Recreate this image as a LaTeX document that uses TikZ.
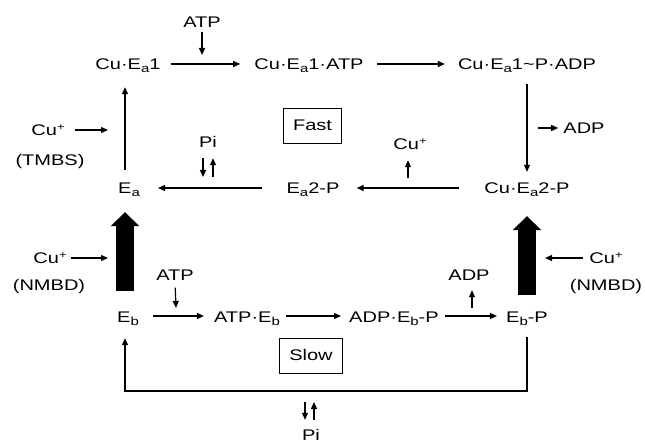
\documentclass[tikz,border=0pt]{standalone}
\usepackage{fontspec}
\setmainfont{Liberation Sans}[FakeStretch=1.3]
\usetikzlibrary{arrows.meta}
\newcommand\lo[1]{\raisebox{-3.5pt}{\fontsize{11.5pt}{12pt}\selectfont #1}}
\newcommand\hi[1]{\raisebox{4.5pt}{\fontsize{10pt}{11pt}\selectfont #1}}
\begin{document}
\begin{tikzpicture}[x=1pt,y=-1pt,
  font=\fontsize{15.4pt}{18pt}\selectfont,
  lbl/.style={inner sep=0pt, text height=11pt, text depth=0pt},
  arr/.style={line width=1.2pt, -{Triangle[length=7pt,width=6pt]}},
  bigarr/.style={line width=18pt, -{Triangle[length=14pt,width=28pt]}},
  boxed/.style={draw, line width=0.8pt, inner xsep=9.7pt, inner ysep=12pt, text height=11pt, text depth=0pt}]
\useasboundingbox (0,0) rectangle (645,443);
% top row
\node[lbl] (cuea1) at (128,64) {Cu·E\lo{a}1};
\node[lbl] (atpA) at (202,22) {ATP};
\node[lbl] (cuea1atp) at (309,64) {Cu·E\lo{a}1·ATP};
\node[lbl] (cuea1p) at (527,64) {Cu·E\lo{a}1\textasciitilde P·ADP};
\node[lbl] (adpA) at (584,128) {ADP};
\node[lbl] (cuea2p) at (527,188) {Cu·E\lo{a}2-P};
\node[lbl] (cupA) at (410,144) {Cu\hi{+}};
\node[lbl] (ea2p) at (313,188) {E\lo{a}2-P};
\node[lbl] (piA) at (208,142) {Pi};
\node[lbl] (ea) at (129,188) {E\lo{a}};
\node[boxed] (fast) at (312.5,125.5) {Fast};
\node[lbl] (cuT) at (48,130) {Cu\hi{+}};
\node[lbl] (tmbs) at (50,160) {(TMBS)};
% bottom row
\node[lbl] (cuL) at (50,258) {Cu\hi{+}};
\node[lbl] (nmbdL) at (49,285) {(NMBD)};
\node[lbl] (atpB) at (175,275) {ATP};
\node[lbl] (eb) at (128,317) {E\lo{b}};
\node[lbl] (atpeb) at (247,317) {ATP·E\lo{b}};
\node[lbl] (adpebp) at (394,317) {ADP·E\lo{b}-P};
\node[lbl] (ebp) at (527,317) {E\lo{b}-P};
\node[lbl] (adpB) at (469,275) {ADP};
\node[lbl] (cuR) at (606,258) {Cu\hi{+}};
\node[lbl] (nmbdR) at (606,285) {(NMBD)};
\node[boxed] (slow) at (311,355.5) {Slow};
\node[lbl] (piB) at (311,434.5) {Pi};
% free ends
\coordinate (atpAin) at (202,55);
\coordinate (adpout) at (538,128);
\coordinate (cupout) at (408,178);
\coordinate (pidn) at (203,177);
\coordinate (piup) at (213,177);
\coordinate (tin) at (108,130);
\coordinate (lin) at (108,258);
\coordinate (rin) at (545,258);
\coordinate (atpBin) at (176,308);
\coordinate (adpBout) at (472,308);
\coordinate (loopy) at (0,391);
\coordinate (pbd) at (305,402);
\coordinate (pbu) at (314,402);
% top connectors
\draw[arr, shorten <=10pt, shorten >=14pt] (cuea1.east) -- (cuea1atp.west);
\draw[arr, shorten <=13pt, shorten >=13pt] (cuea1atp.east) -- (cuea1p.west);
\draw[arr, shorten <=4.5pt] (atpA.south) -- (atpAin);
\draw[arr, shorten <=14pt, shorten >=10.5pt] (cuea1p.south) -- (cuea2p.north);
\draw[arr, shorten >=5pt] (adpout) -- (adpA.west);
\draw[arr, shorten <=25pt, shorten >=17pt] (cuea2p.west) -- (ea2p.east);
\draw[arr, shorten >=10.5pt] (cupout) -- (cupout |- cupA.south);
\draw[arr, shorten <=24pt, shorten >=18pt] (ea2p.west) -- (ea.east);
\draw[arr, shorten <=10.5pt] (pidn |- piA.south) -- (pidn);
\draw[arr, shorten >=10.5pt] (piup) -- (piup |- piA.south);
\draw[arr, shorten <=12.5pt, shorten >=17.5pt] ([xshift=-4pt]ea.north) -- ([xshift=-3pt]cuea1.south);
\draw[arr, shorten <=10pt] (cuT.east) -- (tin);
% thick arrows
\draw[bigarr, shorten <=20.5pt, shorten >=18.5pt] ([xshift=-3pt]eb.north) -- ([xshift=-4pt]ea.south);
\draw[bigarr, shorten <=16.5pt, shorten >=22.5pt] (ebp.north) -- (cuea2p.south);
% bottom connectors
\draw[arr, shorten <=4pt] (cuL.east) -- (lin);
\draw[arr, shorten <=7pt] (atpB.south) -- (atpBin);
\draw[arr, shorten <=14pt, shorten >=10pt] ([yshift=1pt]eb.east) -- ([yshift=1pt]atpeb.west);
\draw[arr, shorten <=6pt, shorten >=8pt] ([yshift=1pt]atpeb.east) -- ([yshift=1pt]adpebp.west);
\draw[arr, shorten <=6pt, shorten >=9pt] ([yshift=1pt]adpebp.east) -- ([yshift=1pt]ebp.west);
\draw[arr, shorten >=9.5pt] (adpBout) -- (adpBout |- adpB.south);
\draw[arr, shorten <=6pt] (cuR.west) -- (rin);
\draw[arr, shorten <=14.5pt, shorten >=15.5pt] (ebp.south) -- (ebp.south |- loopy) -| ([xshift=-3pt]eb.south);
\draw[arr, shorten >=9pt] (pbd) -- (pbd |- piB.north);
\draw[arr, shorten <=9pt] (pbu |- piB.north) -- (pbu);
\end{tikzpicture}
\end{document}
